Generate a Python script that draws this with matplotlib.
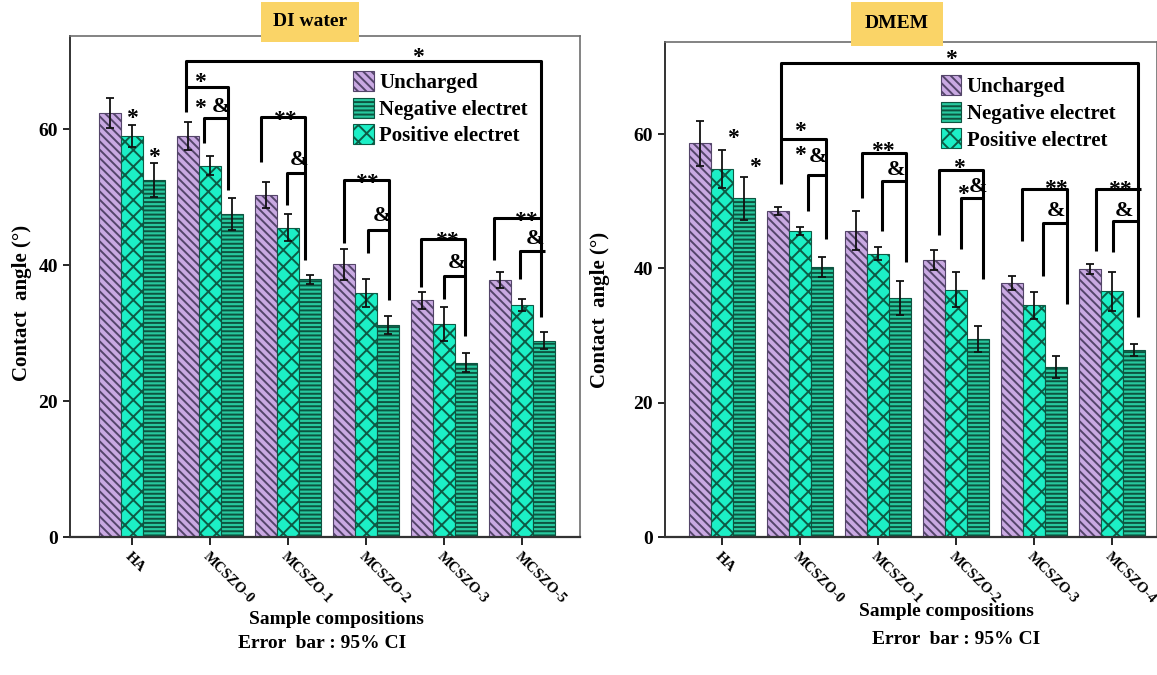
import matplotlib
matplotlib.use("Agg")
import numpy as np
import matplotlib.pyplot as plt
from matplotlib.patches import Patch

plt.rcParams['font.family'] = ['Liberation Serif', 'DejaVu Serif']
plt.rcParams['font.weight'] = 'bold'
plt.rcParams['hatch.linewidth'] = 1.4

# contact angle data, mean and 95% CI half-width
water_groups = ["HA", "MCSZO-0", "MCSZO-1", "MCSZO-2", "MCSZO-3", "MCSZO-5"]
water_unch = [62.4, 59.0, 50.3, 40.1, 34.8, 37.8]
water_unch_err = [2.2, 2.0, 1.9, 2.3, 1.3, 1.2]
water_pos = [59.0, 54.6, 45.5, 35.9, 31.4, 34.1]
water_pos_err = [1.6, 1.4, 2.0, 2.0, 2.5, 0.9]
water_neg = [52.5, 47.5, 37.9, 31.2, 25.6, 28.9]
water_neg_err = [2.5, 2.4, 0.7, 1.3, 1.4, 1.3]

dmem_groups = ["HA", "MCSZO-0", "MCSZO-1", "MCSZO-2", "MCSZO-3", "MCSZO-4"]
dmem_unch = [58.6, 48.6, 45.6, 41.3, 37.8, 39.9]
dmem_unch_err = [3.3, 0.6, 2.9, 1.5, 1.0, 0.7]
dmem_pos = [54.8, 45.5, 42.2, 36.8, 34.5, 36.6]
dmem_pos_err = [2.8, 0.6, 1.0, 2.6, 2.0, 2.9]
dmem_neg = [50.4, 40.2, 35.6, 29.5, 25.3, 27.9]
dmem_neg_err = [3.2, 1.5, 2.5, 1.9, 1.7, 0.9]

# significance brackets: (x_left, x_right, top, left_leg_end, right_leg_end)
water_brackets = [
    (0.69, 5.24, 70.0, 62.5, 32.4),
    (0.69, 1.23, 66.2, 66.2, 51.0), (0.93, 1.25, 61.7, 57.9, 61.7),
    (1.66, 2.22, 61.8, 55.2, 40.7), (1.99, 2.22, 53.6, 48.8, 53.6),
    (2.72, 3.30, 52.5, 43.2, 34.9), (3.02, 3.30, 45.2, 41.8, 45.2),
    (3.71, 4.27, 43.8, 36.8, 29.5), (4.00, 4.27, 38.4, 35.0, 38.4),
    (4.64, 5.24, 46.9, 40.7, 46.9), (4.97, 5.29, 42.0, 37.9, 42.0),
]
water_marks = [
    (0.0, 61.6, "*"), (0.28, 55.9, "*"), (3.66, 70.6, "*"),
    (0.87, 66.8, "*"), (0.87, 63.1, "*"), (1.14, 63.3, "&"),
    (1.96, 61.2, "**"), (2.14, 55.5, "&"),
    (3.01, 52.0, "**"), (3.20, 47.2, "&"),
    (4.03, 43.4, "**"), (4.16, 40.3, "&"),
    (5.05, 46.4, "**"), (5.16, 43.8, "&"),
]
dmem_brackets = [
    (0.76, 5.33, 70.5, 52.6, 32.7),
    (0.76, 1.34, 59.3, 59.3, 44.4), (1.11, 1.34, 53.9, 48.6, 53.9),
    (1.80, 2.36, 57.1, 50.5, 40.9), (2.05, 2.36, 53.0, 45.5, 53.0),
    (2.78, 3.35, 54.6, 45.0, 38.4), (3.07, 3.35, 50.5, 42.9, 50.5),
    (3.85, 4.43, 51.8, 44.1, 34.7), (4.12, 4.43, 46.7, 38.9, 46.7),
    (4.80, 5.38, 51.8, 42.6, 51.8), (5.02, 5.33, 47.1, 42.4, 47.1),
]
dmem_marks = [
    (0.14, 59.3, "*"), (0.42, 55.0, "*"), (2.94, 71.1, "*"),
    (1.00, 60.4, "*"), (1.00, 56.8, "*"), (1.23, 56.6, "&"),
    (2.06, 57.4, "**"), (2.23, 54.7, "&"),
    (3.04, 54.8, "*"), (3.09, 51.0, "*"), (3.29, 52.1, "&"),
    (4.28, 51.8, "**"), (4.29, 48.6, "&"),
    (5.10, 51.6, "**"), (5.16, 48.6, "&"),
]

series_style = {
    "Uncharged": dict(color="#c9a9e2", edgecolor="#54456a", hatch="\\\\\\\\"),
    "Negative electret": dict(color="#27c89e", edgecolor="#0d5440", hatch="----"),
    "Positive electret": dict(color="#1cefc6", edgecolor="#0d5b45", hatch="xx"),
}
width = 0.28

fig = plt.figure(figsize=(11.57, 6.75), dpi=100)
ax1 = fig.add_axes([70 / 1157, 138 / 675, 510 / 1157, 501 / 675])
ax2 = fig.add_axes([665 / 1157, 138 / 675, 492 / 1157, 495 / 675])


def draw_panel(ax, groups, unch, unch_err, pos, pos_err, neg, neg_err,
               brackets, marks, xlim):
    x = np.arange(len(groups))
    for off, vals, errs, name in [(-width, unch, unch_err, "Uncharged"),
                                  (0, pos, pos_err, "Positive electret"),
                                  (width, neg, neg_err, "Negative electret")]:
        st = series_style[name]
        ax.bar(x + off, vals, width, color=st["color"], edgecolor=st["edgecolor"],
               hatch=st["hatch"], linewidth=0.8, zorder=2)
        ax.errorbar(x + off, vals, yerr=errs, fmt="none", ecolor="#111111",
                    elinewidth=1.3, capsize=3, capthick=1.3, zorder=3)
    for xl, xr, top, yl, yr in brackets:
        ax.plot([xl, xl, xr, xr], [yl, top, top, yr], color="black", lw=2.2,
                solid_capstyle="butt", zorder=4)
    for mx, my, txt in marks:
        fs = 16 if txt == "&" else 17
        ax.text(mx, my, txt, ha="center", va="center", fontsize=fs, zorder=5)

    ax.set_xlim(*xlim)
    ax.set_ylim(0, 73.7)
    ax.set_yticks([0, 20, 40, 60])
    ax.set_xticks(x)
    ax.set_xticklabels(groups, rotation=-45, ha="left", va="top",
                       rotation_mode="anchor", fontsize=10.5)
    ax.tick_params(axis="y", labelsize=14, length=5, width=1.2, direction="out")
    ax.tick_params(axis="x", length=6, width=1.2, direction="out", pad=3)
    for side in ["top", "right"]:
        ax.spines[side].set_color("#6e6e6e")
        ax.spines[side].set_linewidth(1.2)
    ax.spines["left"].set_color("#333333")
    ax.spines["left"].set_linewidth(1.4)
    ax.spines["bottom"].set_color("#333333")
    ax.spines["bottom"].set_linewidth(1.6)

    handles = [Patch(facecolor=series_style[n]["color"],
                     edgecolor=series_style[n]["edgecolor"],
                     hatch=series_style[n]["hatch"], linewidth=0.8)
               for n in ["Uncharged", "Negative electret", "Positive electret"]]
    return handles


labels = ["Uncharged", "Negative electret", "Positive electret"]
h = draw_panel(ax1, water_groups, water_unch, water_unch_err, water_pos,
               water_pos_err, water_neg, water_neg_err, water_brackets,
               water_marks, (-0.79, 5.74))
ax1.legend(h, labels, loc="upper left", bbox_to_anchor=(0.555, 0.93),
           frameon=False, fontsize=15, handlelength=1.0, handleheight=1.1,
           handletextpad=0.25, labelspacing=0.22, borderpad=0, borderaxespad=0)

h = draw_panel(ax2, dmem_groups, dmem_unch, dmem_unch_err, dmem_pos,
               dmem_pos_err, dmem_neg, dmem_neg_err, dmem_brackets,
               dmem_marks, (-0.73, 5.58))
ax2.legend(h, labels, loc="upper left", bbox_to_anchor=(0.56, 0.933),
           frameon=False, fontsize=15, handlelength=1.0, handleheight=1.1,
           handletextpad=0.25, labelspacing=0.22, borderpad=0, borderaxespad=0)

# axis labels and panel titles
fig.text(22 / 1157, 1 - 303 / 675, "Contact  angle (°)", rotation=90,
         ha="center", va="center", fontsize=15)
fig.text(600 / 1157, 1 - 310 / 675, "Contact  angle (°)", rotation=90,
         ha="center", va="center", fontsize=15)
fig.text(336 / 1157, 1 - 619 / 675, "Sample compositions", ha="center",
         va="center", fontsize=14)
fig.text(322 / 1157, 1 - 644 / 675, "Error  bar : 95% CI", ha="center",
         va="center", fontsize=14)
fig.text(946 / 1157, 1 - 612 / 675, "Sample compositions", ha="center",
         va="center", fontsize=14)
fig.text(956 / 1157, 1 - 639 / 675, "Error  bar : 95% CI", ha="center",
         va="center", fontsize=14)
fig.text(310 / 1157, 1 - 22 / 675, "DI water", ha="center", va="center",
         fontsize=14, bbox=dict(boxstyle="square,pad=0.6", facecolor="#fad467",
                                edgecolor="none"))
fig.text(897 / 1157, 1 - 24 / 675, "DMEM", ha="center", va="center",
         fontsize=14, bbox=dict(boxstyle="square,pad=0.7", facecolor="#fad467",
                                edgecolor="none"))

fig.savefig("out.png", dpi=100)
